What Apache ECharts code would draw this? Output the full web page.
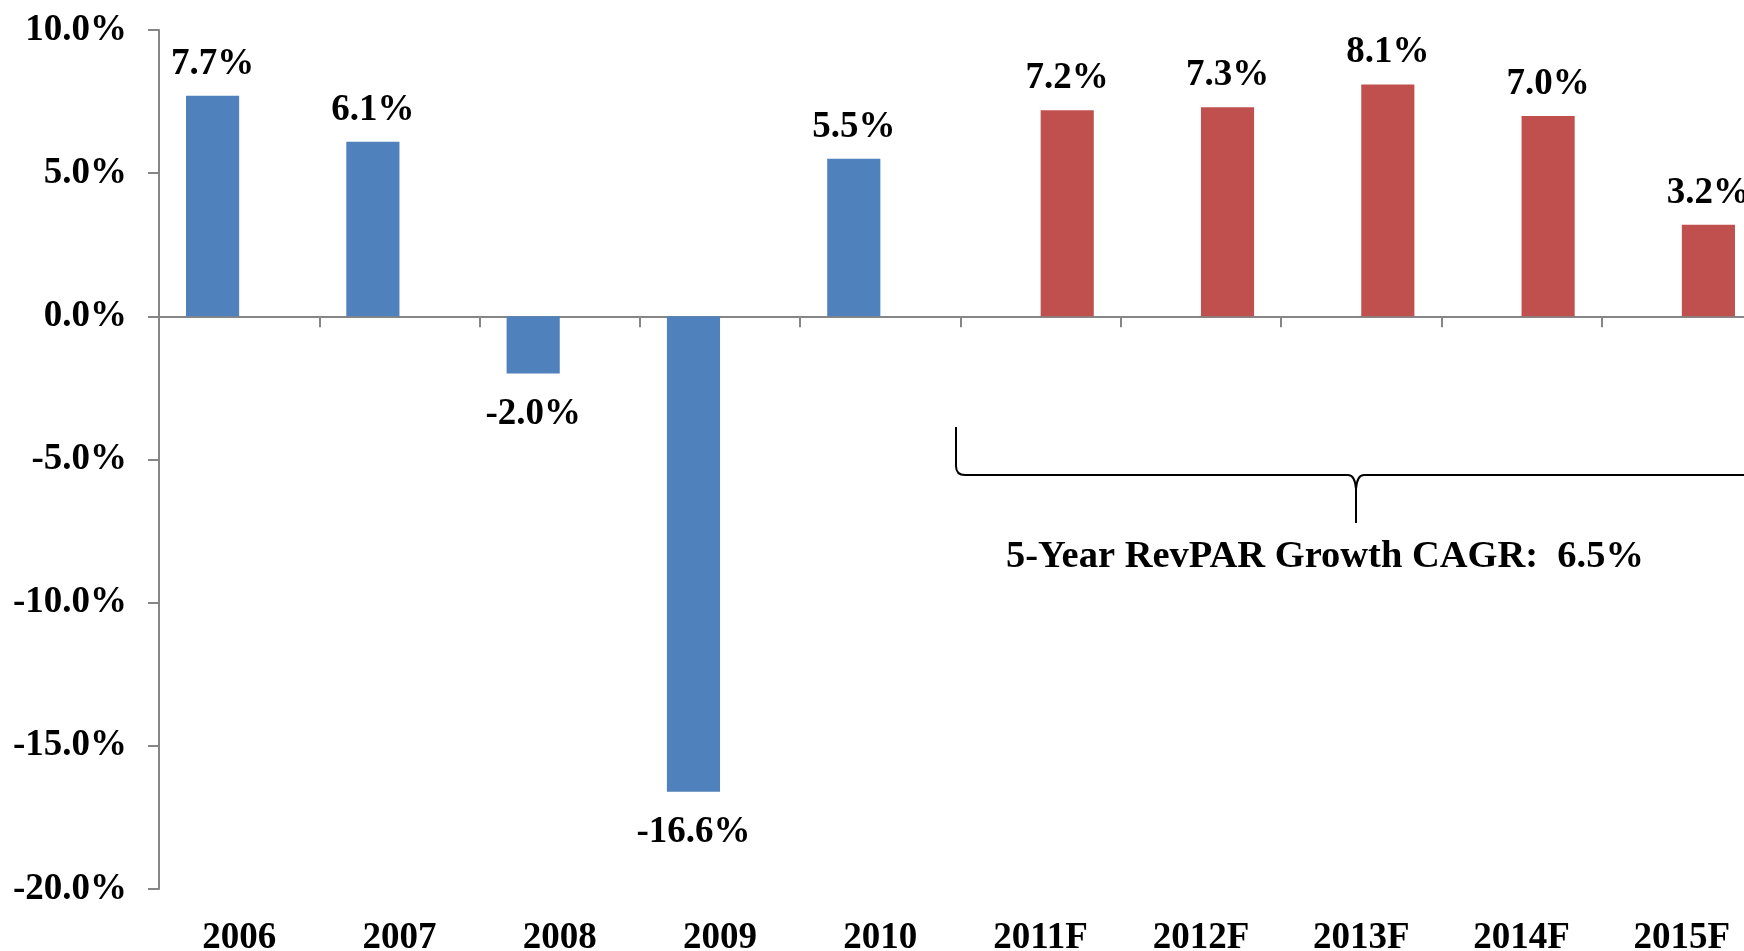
<!DOCTYPE html>
<html>
<head>
<meta charset="utf-8">
<script src="https://cdn.jsdelivr.net/npm/echarts@6/dist/echarts.min.js"></script>
<style>
html,body{margin:0;padding:0;background:#fff;}
#chart{width:1744px;height:951px;}
</style>
</head>
<body>
<div id="chart"></div>
<script>
const categories = ['2006','2007','2008','2009','2010','2011F','2012F','2013F','2014F','2015F'];
const actualValues = [7.7, 6.1, -2.0, -16.6, 5.5, null, null, null, null, null];
const forecastValues = [null, null, null, null, null, 7.2, 7.3, 8.1, 7.0, 3.2];
const annotationText = '5-Year RevPAR Growth CAGR:  6.5%';

const FONT = "'Liberation Serif', 'Times New Roman', serif";
const FS = 37;

function toItems(arr) {
  return arr.map(v => v == null ? null : {
    value: v,
    label: v < 0 ? { position: 'bottom', distance: 22 } : { position: 'top', distance: 13 }
  });
}

const labelStyle = {
  show: true,
  formatter: p => p.value.toFixed(1) + '%',
  fontFamily: FONT,
  fontWeight: 'bold',
  fontSize: FS,
  color: '#000'
};

const chart = echarts.init(document.getElementById('chart'), null, { renderer: 'canvas' });

const option = {
  animation: false,
  backgroundColor: '#fff',
  grid: { left: 159, top: 30, bottom: 62, width: 1603, containLabel: false, outerBoundsMode: 'none' },
  xAxis: [
    {
      type: 'category',
      data: categories,
      position: 'bottom',
      axisLine: { show: true, onZero: true, lineStyle: { color: '#868686', width: 2 } },
      axisTick: { show: true, length: 11, alignWithLabel: false, lineStyle: { color: '#868686', width: 2 } },
      axisLabel: { show: false },
      splitLine: { show: false }
    },
    {
      type: 'category',
      data: categories,
      position: 'bottom',
      axisLine: { show: false, onZero: false },
      axisTick: { show: false },
      axisLabel: {
        show: true,
        margin: 31,
        fontFamily: FONT,
        fontWeight: 'bold',
        fontSize: FS,
        color: '#000',
        hideOverlap: false
      },
      splitLine: { show: false }
    }
  ],
  yAxis: {
    type: 'value',
    min: -20,
    max: 10,
    interval: 5,
    axisLine: { show: true, lineStyle: { color: '#868686', width: 2 } },
    axisTick: { show: true, length: 11, lineStyle: { color: '#868686', width: 2 } },
    splitLine: { show: false },
    axisLabel: {
      margin: 32,
      formatter: v => v.toFixed(1) + '%',
      fontFamily: FONT,
      fontWeight: 'bold',
      fontSize: FS,
      color: '#000'
    }
  },
  series: [
    {
      name: 'Actual',
      type: 'bar',
      xAxisIndex: 0,
      data: toItems(actualValues),
      barGap: '0%',
      barCategoryGap: '33.7%',
      itemStyle: { color: '#4F81BD' },
      label: labelStyle
    },
    {
      name: 'Forecast',
      type: 'bar',
      xAxisIndex: 0,
      data: toItems(forecastValues),
      barGap: '0%',
      barCategoryGap: '33.7%',
      itemStyle: { color: '#C0504D' },
      label: labelStyle
    }
  ]
};
chart.setOption(option);

// Brace annotation under the forecast years
const x0 = 956, x1 = 1766, xm = 1356;
const yTop = 427, yH = 475, yTip = 523, r = 9;
const braceStyle = { stroke: '#000', lineWidth: 2, fill: null };
const braceParts = [
  { type: 'line', shape: { x1: x0, y1: yTop, x2: x0, y2: yH - r } },
  { type: 'bezierCurve', shape: { x1: x0, y1: yH - r, cpx1: x0, cpy1: yH, x2: x0 + r, y2: yH } },
  { type: 'line', shape: { x1: x0 + r, y1: yH, x2: xm - 8, y2: yH } },
  { type: 'bezierCurve', shape: { x1: xm - 8, y1: yH, cpx1: xm - 1, cpy1: yH, x2: xm, y2: yH + 14 } },
  { type: 'line', shape: { x1: xm, y1: yH + 14, x2: xm, y2: yTip } },
  { type: 'bezierCurve', shape: { x1: xm, y1: yH + 14, cpx1: xm + 1, cpy1: yH, x2: xm + 8, y2: yH } },
  { type: 'line', shape: { x1: xm + 8, y1: yH, x2: x1 - r, y2: yH } },
  { type: 'bezierCurve', shape: { x1: x1 - r, y1: yH, cpx1: x1, cpy1: yH, x2: x1, y2: yH - r } },
  { type: 'line', shape: { x1: x1, y1: yH - r, x2: x1, y2: yTop } }
].map(p => Object.assign(p, { style: braceStyle, z: 10 }));

chart.setOption({
  graphic: braceParts.concat([
    {
      type: 'text',
      x: 1325,
      y: 557,
      style: {
        text: annotationText,
        fontFamily: FONT,
        fontWeight: 'bold',
        fontSize: 38.5,
        fill: '#000',
        align: 'center',
        verticalAlign: 'middle'
      },
      z: 10
    }
  ])
});
</script>
</body>
</html>
